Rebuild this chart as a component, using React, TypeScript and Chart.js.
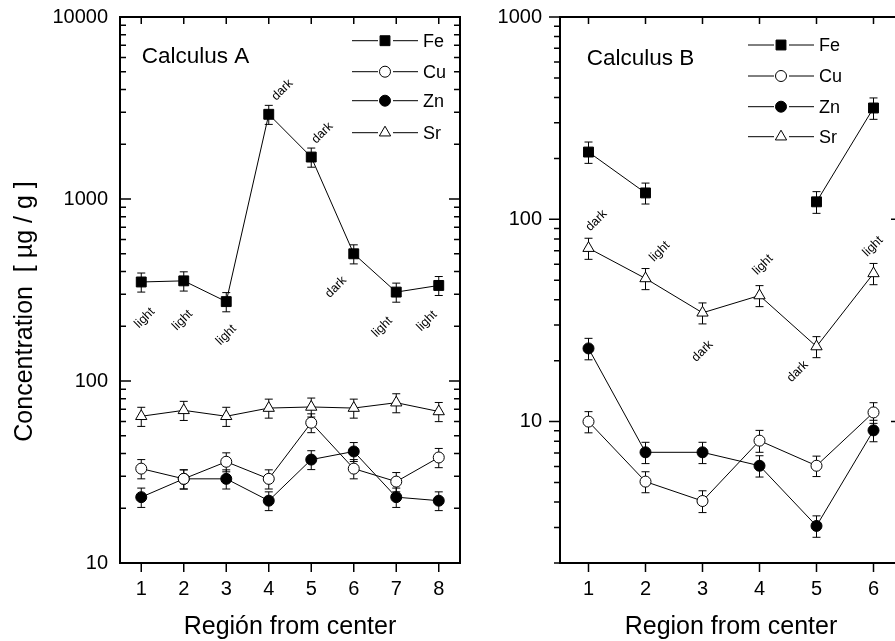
import React, { useEffect, useRef } from 'react';
import { Chart, registerables } from 'chart.js';

Chart.register(...registerables);

const FONT = '"Liberation Sans", Arial, Helvetica, sans-serif';

// ---------- data ----------
const seriesNames = ['Fe', 'Cu', 'Zn', 'Sr'];

// Calculus A
const regionsA = [1, 2, 3, 4, 5, 6, 7, 8];
const feA = [350, 355, 273, 2920, 1700, 500, 308, 335];
const cuA = [33, 29, 36, 29, 59, 33, 28, 38];
const znA = [23, 29, 29, 22, 37, 41, 23, 22];
const srA = [64, 69, 64, 71, 72, 71, 76, 68];
const feAErr = [42, 43, 33, 350, 205, 60, 37, 40];
const cuAErr = [4, 3.5, 4.3, 3.5, 7, 4, 3.4, 4.6];
const znAErr = [2.8, 3.5, 3.5, 2.6, 4.4, 4.9, 2.8, 2.6];
const srAErr = [7.7, 8.3, 7.7, 8.5, 8.6, 8.5, 9.1, 8.2];
const yLabelsA = [10, 100, 1000, 10000];
const noteTextA = ['light', 'light', 'light', 'dark', 'dark', 'dark', 'light', 'light'];
const noteXA = [1.08, 1.97, 3.0, 4.32, 5.26, 5.58, 6.67, 7.72];
const noteYA = [222, 216, 179, 3975, 2307, 328, 198, 214];

// Calculus B
const regionsB = [1, 2, 3, 4, 5, 6];
const feB = [215, 135, null, null, 122, 355];
const cuB = [10, 5.05, 4.05, 8.05, 6.05, 11.1];
const znB = [23, 7.05, 7.05, 6.05, 3.05, 9.05];
const srB = [72, 51, 34.5, 42, 23.5, 54];
const feBErr = [26, 16, null, null, 15, 43];
const cuBErr = [1.2, 0.6, 0.5, 1.0, 0.7, 1.3];
const znBErr = [2.8, 0.85, 0.85, 0.73, 0.37, 1.1];
const srBErr = [8.6, 6.1, 4.1, 5.0, 2.8, 6.5];
const yLabelsB = [10, 100, 1000];
const noteTextB = ['dark', 'light', 'dark', 'light', 'dark', 'light'];
const noteXB = [1.14, 2.25, 3.0, 4.06, 4.67, 5.99];
const noteYB = [98.6, 69.3, 22.3, 59.6, 17.7, 73.4];

const xTitleA = 'Región from center';
const xTitleB = 'Region from center';
const yTitle = 'Concentration  [ µg / g ]';

// ---------- styles ----------
const markerStyles = [
  { shape: 'rect', radius: 7, fill: '#000000' },
  { shape: 'circle', radius: 5.5, fill: '#ffffff' },
  { shape: 'circle', radius: 5.5, fill: '#000000' },
  { shape: 'triangle', radius: 6.5, fill: '#ffffff' },
];

type Panel = {
  regions: number[];
  values: (number | null)[][];
  errors: (number | null)[][];
  xMin: number; xMax: number; yMin: number; yMax: number;
  yLabels: number[];
  title: string; titleX: number; titleY: number;
  xTitle: string;
  notes: { text: string[]; x: number[]; y: number[] };
  legend: { cx: number; ys: number[]; textX: number };
  leftTicksOut: boolean;
  yAxisWidth: number; yPad: number;
  padding: { top: number; right: number; left: number; bottom: number };
  showYTitle: boolean;
  canvasLeft: number; canvasWidth: number;
};

function buildLogTicks(min: number, max: number) {
  const out: number[] = [];
  const mult = [1, 2, 3, 4, 5, 6, 7, 8, 9];
  for (let e = Math.floor(Math.log10(min)); e <= Math.ceil(Math.log10(max)); e++) {
    for (const m of mult) {
      const v = Math.round(m * Math.pow(10, e) * 1000) / 1000;
      if (v >= min - 1e-9 && v <= max + 1e-9) out.push(v);
    }
  }
  return out;
}

function drawMarker(ctx: CanvasRenderingContext2D, st: any, x: number, y: number) {
  ctx.save();
  ctx.beginPath();
  const r = st.radius;
  if (st.shape === 'rect') {
    const s = Math.SQRT1_2 * r;
    ctx.rect(x - s, y - s, 2 * s, 2 * s);
  } else if (st.shape === 'circle') {
    ctx.arc(x, y, r, 0, Math.PI * 2);
  } else {
    let rad = 0;
    ctx.moveTo(x + Math.sin(rad) * r, y - Math.cos(rad) * r);
    rad += (2 * Math.PI) / 3;
    ctx.lineTo(x + Math.sin(rad) * r, y - Math.cos(rad) * r);
    rad += (2 * Math.PI) / 3;
    ctx.lineTo(x + Math.sin(rad) * r, y - Math.cos(rad) * r);
    ctx.closePath();
  }
  ctx.fillStyle = st.fill;
  ctx.fill();
  ctx.strokeStyle = '#000';
  ctx.lineWidth = 1;
  ctx.stroke();
  ctx.restore();
}

function makePlugin(p: Panel) {
  return {
    id: 'decor',
    beforeDatasetsDraw(chart: any) {
      const ctx: CanvasRenderingContext2D = chart.ctx;
      const xs = chart.scales.x, ys = chart.scales.y;
      ctx.save();
      ctx.strokeStyle = '#000';
      ctx.lineWidth = 1;
      p.values.forEach((vals, i) => {
        vals.forEach((v, j) => {
          const e = p.errors[i][j];
          if (v == null || e == null) return;
          const px = xs.getPixelForValue(p.regions[j]);
          const y1 = ys.getPixelForValue(v + e);
          const y2 = ys.getPixelForValue(v - e);
          ctx.beginPath();
          ctx.moveTo(px, y1); ctx.lineTo(px, y2);
          ctx.moveTo(px - 4, y1); ctx.lineTo(px + 4, y1);
          ctx.moveTo(px - 4, y2); ctx.lineTo(px + 4, y2);
          ctx.stroke();
        });
      });
      ctx.restore();
    },
    afterDatasetsDraw(chart: any) {
      const ctx: CanvasRenderingContext2D = chart.ctx;
      const { left, right, top, bottom } = chart.chartArea;
      const xs = chart.scales.x, ys = chart.scales.y;
      ctx.save();
      // frame
      ctx.strokeStyle = '#000';
      ctx.lineWidth = 2;
      ctx.strokeRect(left, top, right - left, bottom - top);
      // y ticks
      ctx.lineWidth = 1.5;
      ctx.beginPath();
      ys.ticks.forEach((t: any) => {
        const py = ys.getPixelForValue(t.value);
        const major = p.yLabels.includes(t.value);
        const len = major ? 11 : 6;
        if (p.leftTicksOut) { ctx.moveTo(left, py); ctx.lineTo(left - len, py); }
        else { ctx.moveTo(left, py); ctx.lineTo(left + len, py); }
        ctx.moveTo(right, py); ctx.lineTo(right - len, py);
      });
      xs.ticks.forEach((t: any) => {
        const px = xs.getPixelForValue(t.value);
        ctx.moveTo(px, top); ctx.lineTo(px, top + 7);
        ctx.moveTo(px, bottom); ctx.lineTo(px, bottom + 9);
      });
      ctx.stroke();

      // annotations
      ctx.fillStyle = '#000';
      ctx.font = `12.5px ${FONT}`;
      ctx.textAlign = 'center';
      ctx.textBaseline = 'middle';
      p.notes.text.forEach((txt, k) => {
        const px = xs.getPixelForValue(p.notes.x[k]);
        const py = ys.getPixelForValue(p.notes.y[k]);
        ctx.save();
        ctx.translate(px, py);
        ctx.rotate(-Math.PI / 4);
        ctx.fillText(txt, 0, 0);
        ctx.restore();
      });

      // panel title
      ctx.font = `22.5px ${FONT}`;
      ctx.textAlign = 'left';
      ctx.textBaseline = 'alphabetic';
      ctx.fillText(p.title, p.titleX, p.titleY);

      // legend
      ctx.font = `18px ${FONT}`;
      ctx.textBaseline = 'middle';
      seriesNames.forEach((name, i) => {
        const y = p.legend.ys[i];
        const cx = p.legend.cx;
        ctx.strokeStyle = '#000';
        ctx.lineWidth = 1;
        ctx.beginPath();
        ctx.moveTo(cx - 33, y); ctx.lineTo(cx - 7, y);
        ctx.moveTo(cx + 8, y); ctx.lineTo(cx + 33, y);
        ctx.stroke();
        drawMarker(ctx, markerStyles[i], cx, y);
        ctx.fillStyle = '#000';
        ctx.fillText(name, p.legend.textX, y + 1);
      });

      // y title
      if (p.showYTitle) {
        ctx.save();
        ctx.font = `25px ${FONT}`;
        ctx.textAlign = 'center';
        ctx.textBaseline = 'middle';
        ctx.translate(25, 311.5);
        ctx.rotate(-Math.PI / 2);
        ctx.fillText(yTitle, 0, 0);
        ctx.restore();
      }
      ctx.restore();
    },
  };
}

function makeConfig(p: Panel): any {
  const datasets = seriesNames.map((name, i) => {
    const st = markerStyles[i];
    return {
      label: name,
      data: p.regions.map((r, j) => ({ x: r, y: p.values[i][j] })),
      borderColor: '#000',
      borderWidth: 1,
      tension: 0,
      fill: false,
      spanGaps: false,
      pointStyle: st.shape,
      pointRadius: st.radius,
      pointHoverRadius: st.radius,
      pointBackgroundColor: st.fill,
      pointBorderColor: '#000',
      pointBorderWidth: 1,
    };
  });
  return {
    type: 'line',
    data: { datasets },
    plugins: [makePlugin(p)],
    options: {
      responsive: false,
      animation: false,
      events: [],
      layout: { padding: p.padding },
      plugins: { legend: { display: false }, tooltip: { enabled: false } },
      scales: {
        x: {
          type: 'linear',
          min: p.xMin,
          max: p.xMax,
          grid: { display: false, drawTicks: false },
          border: { display: false },
          afterBuildTicks: (s: any) => { s.ticks = p.regions.map((v) => ({ value: v })); },
          afterFit: (s: any) => {
            s.height = 78;
            s.paddingLeft = 0; s.paddingRight = 0; s.paddingTop = 0; s.paddingBottom = 0;
          },
          ticks: {
            autoSkip: false,
            maxRotation: 0,
            padding: 14,
            color: '#000',
            font: { family: FONT, size: 20, lineHeight: 1.2 },
            callback: (v: any) => String(v),
          },
          title: {
            display: true,
            text: p.xTitle,
            color: '#000',
            font: { family: FONT, size: 25, lineHeight: 1 },
            padding: { top: 0, bottom: 1.5 },
          },
        },
        y: {
          type: 'logarithmic',
          min: p.yMin,
          max: p.yMax,
          grid: { display: false, drawTicks: false },
          border: { display: false },
          afterBuildTicks: (s: any) => { s.ticks = buildLogTicks(p.yMin, p.yMax).map((v) => ({ value: v })); },
          afterFit: (s: any) => {
            s.width = p.yAxisWidth;
            s.paddingLeft = 0; s.paddingRight = 0; s.paddingTop = 0; s.paddingBottom = 0;
          },
          ticks: {
            autoSkip: false,
            padding: p.yPad,
            color: '#000',
            font: { family: FONT, size: 20, lineHeight: 1.2 },
            callback: (v: any) => (p.yLabels.includes(Number(v)) ? String(v) : ''),
          },
        },
      },
    },
  };
}

const panelA: Panel = {
  regions: regionsA,
  values: [feA, cuA, znA, srA],
  errors: [feAErr, cuAErr, znAErr, srAErr],
  xMin: 0.5, xMax: 8.5, yMin: 10, yMax: 10000,
  yLabels: yLabelsA,
  title: 'Calculus A', titleX: 141.7, titleY: 63.3,
  xTitle: xTitleA,
  notes: { text: noteTextA, x: noteXA, y: noteYA },
  legend: { cx: 385, ys: [40.7, 71.7, 100.7, 132.7], textX: 423 },
  leftTicksOut: false,
  yAxisWidth: 120, yPad: 12,
  padding: { top: 17, right: 10, left: 0, bottom: 0 },
  showYTitle: true,
  canvasLeft: 0, canvasWidth: 470,
};

const panelB: Panel = {
  regions: regionsB,
  values: [feB, cuB, znB, srB],
  errors: [feBErr, cuBErr, znBErr, srBErr],
  xMin: 0.5, xMax: 6.5, yMin: 2, yMax: 1000,
  yLabels: yLabelsB,
  title: 'Calculus B', titleX: 116.7, titleY: 65,
  xTitle: xTitleB,
  notes: { text: noteTextB, x: noteXB, y: noteYB },
  legend: { cx: 311, ys: [45, 76, 106.7, 136.7], textX: 349 },
  leftTicksOut: true,
  yAxisWidth: 90, yPad: 18,
  padding: { top: 17, right: 18, left: 0, bottom: 0 },
  showYTitle: false,
  canvasLeft: 470, canvasWidth: 450,
};

function PanelChart({ panel }: { panel: Panel }) {
  const ref = useRef<HTMLCanvasElement>(null);
  useEffect(() => {
    const chart = new Chart(ref.current as HTMLCanvasElement, makeConfig(panel));
    return () => chart.destroy();
  }, [panel]);
  return (
    <canvas
      ref={ref}
      width={panel.canvasWidth}
      height={641}
      style={{ position: 'absolute', left: panel.canvasLeft, top: 0, width: panel.canvasWidth, height: 641 }}
    />
  );
}

export default function App() {
  return (
    <div style={{ position: 'fixed', left: 0, top: 0, width: 895, height: 641, overflow: 'hidden', background: '#fff' }}>
      <PanelChart panel={panelA} />
      <PanelChart panel={panelB} />
    </div>
  );
}
